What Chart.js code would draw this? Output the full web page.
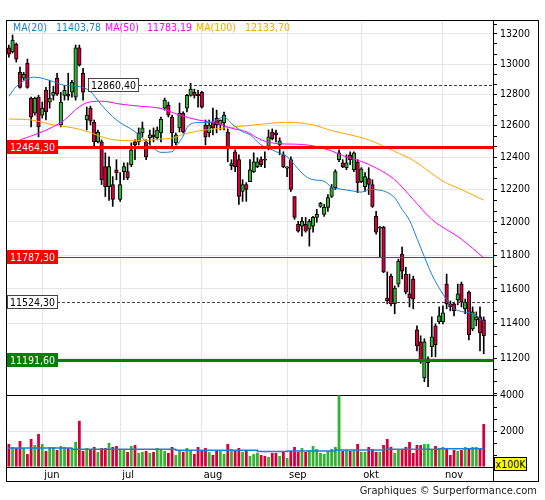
<!DOCTYPE html>
<html>
<head>
<meta charset="utf-8">
<script src="https://cdn.jsdelivr.net/npm/chart.js@4.4.1/dist/chart.umd.min.js"></script>
<style>
  html, body { margin: 0; padding: 0; background: #fff; }
  body { width: 545px; height: 500px; position: relative; overflow: hidden;
         font-family: 'DejaVu Sans Condensed', 'Liberation Sans', sans-serif; }
  canvas { position: absolute; left: 0; }
  #price { top: 0; }
  #vol { top: 385px; }
  #frame { position: absolute; left: 6px; top: 20px; width: 533px; height: 462px;
           border: 1px solid #000; box-sizing: border-box; }
  #axisTail { position: absolute; left: 493px; top: 467px; width: 1px; height: 15px; background: #000; }
  .leg { position: absolute; top: 21px; font-size: 10.5px; line-height: 12px; white-space: nowrap; }
  #unit { position: absolute; left: 494px; top: 457px; width: 33px; height: 14px; box-sizing: border-box;
          border: 1px solid #000; background: #ffff00; font-size: 10.5px; line-height: 12px; text-align: center; }
  #credit { position: absolute; right: 8px; top: 484px; font-size: 11px; line-height: 14px; color: #222; }
</style>
</head>
<body>
<canvas id="price" width="545" height="397"></canvas>
<canvas id="vol" width="545" height="97"></canvas>
<div id="frame"></div>
<div id="axisTail"></div>
<div id="legend"></div>
<div id="unit">x100K</div>
<div id="credit">Graphiques © Surperformance.com</div>
<script>
// trading days per month, first month only partly shown
const months = ['mai', 'jun', 'jul', 'aug', 'sep', 'okt', 'nov'];
const monthDays = [9, 21, 22, 23, 20, 22, 12];

const open = [13107,13080,13133,12946,12907,13006,12778,12681,12784,12668,
  12829,12752,12796,12907,12605,12796,12803,12816,12784,13107,
  12940,12637,12713,12624,12497,12497,12341,12217,12230,12322,
  12138,12310,12310,12353,12497,12497,12554,12497,12523,12542,
  12523,12554,12713,12733,12656,12491,12586,12681,12713,12796,
  12816,12803,12816,12605,12554,12624,12649,12605,12618,12560,
  12347,12435,12385,12187,12230,12248,12310,12341,12385,12388,
  12460,12560,12554,12478,12416,12332,12385,12156,11986,11974,
  11986,11956,11974,12028,12095,12046,12089,12156,12211,12385,
  12366,12335,12416,12322,12372,12248,12217,12267,12230,12034,
  11962,11968,11546,11675,11512,11628,11806,11687,11570,11658,
  11361,11292,11088,11173,11264,11384,11408,11408,11628,11512,
  11512,11535,11628,11483,11581,11367,11419,11436,11419];
const high = [13126,13193,13140,12980,12946,13033,12784,12784,12796,12752,
  12848,12894,12855,12940,12816,12861,12940,12894,13126,13126,
  12972,12720,12726,12637,12573,12510,12428,12403,12279,12385,
  12304,12366,12366,12491,12510,12586,12624,12510,12573,12586,
  12592,12656,12778,12752,12668,12554,12746,12690,12803,12874,
  12836,12829,12822,12637,12637,12713,12700,12637,12688,12580,
  12385,12447,12416,12260,12242,12385,12428,12397,12403,12435,
  12573,12580,12573,12523,12435,12341,12403,12156,12004,12028,
  12028,12016,12034,12077,12120,12107,12168,12230,12322,12447,
  12385,12416,12435,12435,12385,12335,12304,12335,12260,12065,
  11974,11974,11700,11687,11617,11776,11848,11728,11687,11675,
  11384,11327,11310,11207,11436,11396,11494,11500,11687,11529,
  11523,11628,11640,11540,11587,11494,11465,11494,11436];
const low = [13046,13073,13013,12842,12894,12842,12592,12668,12529,12649,
  12637,12713,12765,12796,12592,12765,12765,12784,12765,12987,
  12765,12573,12605,12466,12491,12230,12156,12132,12095,12260,
  12126,12260,12260,12341,12385,12478,12529,12385,12478,12497,
  12510,12497,12700,12656,12460,12478,12560,12554,12688,12790,
  12778,12720,12713,12478,12529,12542,12554,12573,12573,12372,
  12322,12310,12107,12126,12126,12248,12304,12335,12341,12335,
  12447,12510,12497,12416,12335,12279,12187,12016,11938,11914,
  11938,11854,11938,11998,12089,12034,12065,12150,12199,12372,
  12335,12322,12353,12310,12180,12242,12187,12168,12089,11926,
  11788,11695,11512,11500,11454,11611,11658,11570,11494,11483,
  11241,11170,11066,11038,11207,11207,11396,11396,11483,11471,
  11442,11506,11494,11454,11304,11356,11384,11241,11224];
const close = [13066,13160,13033,12848,12933,12848,12656,12778,12592,12713,
  12688,12778,12816,12803,12752,12829,12790,12881,13107,12993,
  12816,12668,12630,12497,12560,12260,12217,12341,12138,12304,
  12230,12341,12273,12447,12478,12554,12586,12403,12542,12529,
  12573,12643,12765,12668,12554,12542,12681,12560,12796,12836,
  12796,12793,12720,12529,12605,12586,12605,12637,12668,12453,
  12360,12341,12156,12230,12199,12322,12372,12372,12353,12382,
  12529,12517,12542,12504,12341,12338,12199,12028,11944,12004,
  11944,12004,12028,12046,12114,12089,12150,12211,12310,12428,
  12341,12366,12385,12428,12242,12328,12279,12230,12095,11938,
  11968,11700,11529,11512,11605,11764,11705,11581,11546,11540,
  11270,11178,11292,11195,11321,11275,11442,11460,11512,11494,
  11471,11570,11523,11523,11333,11465,11436,11344,11327];
// volume in units of 100K
const volume = [1280,1110,1055,1445,1055,720,1555,1220,1835,1280,
  890,1110,1110,945,1165,1110,1055,1055,1390,2560,
  890,1055,945,1110,835,1055,1055,1335,1110,1165,
  945,945,835,1165,1220,780,835,890,780,835,
  1055,945,890,780,1110,670,945,835,1055,945,
  720,1110,945,1055,835,670,890,945,720,1280,
  1000,890,1055,835,890,610,720,780,670,610,
  555,780,778,612,890,500,890,1112,834,1056,
  834,945,1167,1000,778,723,890,1000,1112,3980,
  890,945,890,945,1279,834,834,1112,1000,834,
  834,1223,1557,1112,778,1000,1000,1112,1390,778,
  1223,1223,1279,1279,1000,1167,1056,1112,1056,667,
  945,890,945,1112,1000,1112,1112,1056,2390];

// moving averages: [day index, value]
const ma20 = [[0,12790],[2,12853],[7,12914],[12,12885],[15,12861],[19,12853],[22,12820],[25,12733],
  [29,12637],[34,12562],[37,12500],[39,12458],[41,12431],[44,12435],[45,12466],[47,12535],[48,12588],
  [51,12620],[54,12620],[56,12637],[58,12656],[60,12615],[63,12562],[65,12542],[68,12478],[71,12447],
  [73,12425],[75,12404],[77,12353],[80,12281],[82,12260],[85,12250],[87,12213],[89,12203],[93,12189],
  [95,12183],[97,12199],[100,12195],[104,12148],[106,12077],[108,12010],[110,11900],[112,11790],
  [114,11685],[116,11604],[118,11537],[120,11485],[122,11467],[124,11460],[126,11443],[128,11403.78]];
const ma50 = [[3,12510],[8,12552],[12,12594],[15,12637],[19,12722],[22,12754],[25,12758],[30,12739],
  [35,12726],[41,12711],[46,12668],[51,12637],[56,12616],[60,12584],[64,12562],[68,12510],[73,12485],
  [77,12483],[82,12472],[87,12440],[90,12410],[95,12374],[99,12333],[104,12260],[109,12138],
  [114,12016],[122,11896],[128,11783.19]];
const ma100 = [[0,12643],[6,12637],[12,12605],[17,12588],[22,12557],[25,12529],[30,12506],[35,12504],
  [41,12516],[44,12521],[48,12552],[53,12573],[60,12590],[66,12605],[75,12622],[82,12605],[87,12569],
  [92,12542],[97,12510],[104,12437],[109,12381],[117,12251],[122,12199],[128,12133.70]];
const volMa = [[0,1000],[17,1055],[45,985],[67,925],[75,855],[88,890],[101,945],[116,985],[122,1020],[128,1020]];

const maNames = ['MA(20)', 'MA(50)', 'MA(100)'];
const maLast = [11403.78, 11783.19, 12133.70];
const levels = [12860.40, 12464.30, 11787.30, 11524.30, 11191.60];
const priceTicks = [11200, 11400, 11600, 11800, 12000, 12200, 12400, 12600, 12800, 13000, 13200];
const volTicks = [2000, 4000];

const RED = '#d2003c', GREEN = '#33b233', BLUE = '#1a7fd4', MAGENTA = '#ff00ff', ORANGE = '#ffa500';
const GRID = '#e6e6e6';
const FAMILY = "'DejaVu Sans Condensed', 'Liberation Sans', sans-serif";

// category labels, month start positions
const labels = [];
const monthStart = {};
months.forEach((m, k) => {
  for (let d = 0; d < monthDays[k]; d++) {
    if (d === 0 && k > 0) monthStart[labels.length] = m;
    labels.push(m + ' ' + (d + 1));
  }
});
labels.push(' ', '  '); // empty room at the right edge
const monthIdx = Object.keys(monthStart).map(Number);

function sparse(points) {
  const arr = new Array(labels.length).fill(null);
  points.forEach(p => { arr[p[0]] = p[1]; });
  return arr;
}
function fmt(v) { return v.toFixed(2).replace('.', ','); }
function withMinor(major, lo, hi) {
  const out = [];
  const step = (major[1] - major[0]) / 3;
  for (let v = major[0] - 3 * step; v <= major[major.length - 1] + 3 * step + 1e-6; v += step) {
    const m = major.find(t => Math.abs(t - v) < 1e-6);
    const val = m !== undefined ? m : v;
    if (val >= lo && val <= hi) out.push(val);
  }
  return out;
}
// keep the plot area where the layout padding puts it
function fixY(s) { s.width = 46; s.paddingTop = 0; s.paddingBottom = 0; }
function fixX(h) { return s => { s.height = h; s.paddingLeft = 0; s.paddingRight = 0; }; }

const up = open.map((o, i) => close[i] >= o);
const candleColors = up.map(u => u ? GREEN : RED);

// legend text
const legend = document.getElementById('legend');
const legColors = [BLUE, MAGENTA, ORANGE];
const legX = [[13, 56], [105, 147], [196, 245]];
maNames.forEach((n, k) => {
  [n, fmt(maLast[k])].forEach((t, j) => {
    const s = document.createElement('div');
    s.className = 'leg';
    s.style.left = legX[k][j] + 'px';
    s.style.color = legColors[k];
    s.textContent = t;
    legend.appendChild(s);
  });
});

const levelStyle = [
  { line: '#444', width: 1, dash: [3, 2], box: '#fff', border: '#444', text: '#000', from: 22 },
  { line: '#ff0000', width: 3, box: '#ff0000', text: '#fff' },
  { line: '#ff0000', width: 1, box: '#ff0000', text: '#fff' },
  { line: '#444', width: 1, dash: [3, 2], box: '#fff', border: '#444', text: '#000' },
  { line: '#008000', width: 3, box: '#008000', text: '#fff' }
];

const levelPlugin = {
  id: 'levels',
  afterDatasetsDraw(chart) {
    const { ctx, chartArea: a, scales: { x, y } } = chart;
    ctx.save();
    ctx.font = '10.5px ' + FAMILY;
    levels.forEach((v, k) => {
      const st = levelStyle[k];
      const py = Math.round(y.getPixelForValue(v));
      const txt = fmt(v);
      const bw = Math.max(48, Math.ceil(ctx.measureText(txt).width) + 5);
      const bh = 14;
      const bx = st.from !== undefined ? Math.round(x.getPixelForValue(st.from)) - 2 : a.left;
      ctx.beginPath();
      ctx.setLineDash(st.dash || []);
      ctx.strokeStyle = st.line;
      ctx.lineWidth = st.width;
      ctx.moveTo(st.from !== undefined ? bx + bw : a.left, py + 0.5);
      ctx.lineTo(a.right, py + 0.5);
      ctx.stroke();
      ctx.setLineDash([]);
      ctx.fillStyle = st.box;
      ctx.fillRect(bx, py - bh / 2, bw, bh);
      if (st.border) {
        ctx.strokeStyle = st.border;
        ctx.lineWidth = 1;
        ctx.strokeRect(bx + 0.5, py - bh / 2 + 0.5, bw - 1, bh - 1);
      }
      ctx.fillStyle = st.text;
      ctx.textAlign = 'center';
      ctx.textBaseline = 'middle';
      ctx.fillText(txt, bx + bw / 2, py + 1);
    });
    ctx.restore();
  }
};

const tickFont = { family: FAMILY, size: 10.5 };
const priceAll = withMinor(priceTicks, 10992, 13294);

new Chart(document.getElementById('price'), {
  type: 'bar',
  data: {
    labels: labels,
    datasets: [
      { type: 'line', data: sparse(ma20), borderColor: BLUE, borderWidth: 1, pointRadius: 0,
        spanGaps: true, cubicInterpolationMode: 'monotone', order: 0 },
      { type: 'line', data: sparse(ma50), borderColor: MAGENTA, borderWidth: 1, pointRadius: 0,
        spanGaps: true, cubicInterpolationMode: 'monotone', order: 1 },
      { type: 'line', data: sparse(ma100), borderColor: ORANGE, borderWidth: 1, pointRadius: 0,
        spanGaps: true, cubicInterpolationMode: 'monotone', order: 2 },
      { data: open.map((o, i) => [Math.min(o, close[i]), Math.max(o, close[i])]),
        backgroundColor: candleColors, borderColor: '#000', borderWidth: 1, borderSkipped: false,
        barThickness: 3.6, grouped: false, order: 3 },
      { data: low.map((l, i) => [l, high[i]]), backgroundColor: '#000', borderWidth: 0,
        barThickness: 1, grouped: false, order: 4 }
    ]
  },
  options: {
    responsive: false,
    animation: false,
    layout: { padding: { top: 20, left: 7, right: 6, bottom: 2 } },
    plugins: { legend: { display: false }, tooltip: { enabled: false } },
    scales: {
      x: {
        offset: true,
        afterBuildTicks: s => { s.ticks = monthIdx.map(v => ({ value: v })); },
        afterFit: fixX(0),
        ticks: { display: false },
        grid: { offset: false, color: GRID, drawTicks: false },
        border: { display: true, color: '#000' }
      },
      y: {
        type: 'logarithmic',
        position: 'right',
        min: 10992,
        max: 13294,
        afterBuildTicks: s => { s.ticks = priceAll.map(v => ({ value: v })); },
        afterFit: fixY,
        ticks: { autoSkip: false, padding: 3, color: '#000', font: tickFont,
                 callback: v => priceTicks.includes(v) ? String(v) : '' },
        grid: { color: c => priceTicks.includes(c.tick.value) ? GRID : 'rgba(0,0,0,0)',
                tickColor: '#000', tickLength: 4 },
        border: { display: true, color: '#000' }
      }
    }
  },
  plugins: [levelPlugin]
});

const volAll = withMinor([0, 2000, 4000], 0, 4000);

new Chart(document.getElementById('vol'), {
  type: 'bar',
  data: {
    labels: labels,
    datasets: [
      { type: 'line', data: sparse(volMa), borderColor: BLUE, borderWidth: 1.5, pointRadius: 0,
        spanGaps: true, stepped: 'after', order: 0 },
      { data: volume, backgroundColor: candleColors, barPercentage: 0.75, categoryPercentage: 1, order: 1 }
    ]
  },
  options: {
    responsive: false,
    animation: false,
    layout: { padding: { top: 10, left: 7, right: 6, bottom: 0 } },
    plugins: { legend: { display: false }, tooltip: { enabled: false } },
    scales: {
      x: {
        offset: true,
        afterBuildTicks: s => { s.ticks = monthIdx.map(v => ({ value: v })); },
        afterFit: fixX(15),
        ticks: { autoSkip: false, maxRotation: 0, align: 'start', labelOffset: 2, padding: 2,
                 color: '#000', font: { family: FAMILY, size: 11 },
                 callback: v => monthStart[v] || '' },
        grid: { offset: false, color: GRID, drawTicks: false },
        border: { display: true, color: '#000' }
      },
      y: {
        position: 'right',
        min: 0,
        max: 4000,
        afterBuildTicks: s => { s.ticks = volAll.map(v => ({ value: v })); },
        afterFit: fixY,
        ticks: { autoSkip: false, padding: 3, color: '#000', font: tickFont,
                 callback: v => volTicks.includes(v) ? String(v) : '' },
        grid: { color: c => c.tick.value === 4000 ? '#000' : (c.tick.value === 2000 ? GRID : 'rgba(0,0,0,0)'),
                tickColor: '#000', tickLength: 4 },
        border: { display: true, color: '#000' }
      }
    }
  }
});
</script>
</body>
</html>
